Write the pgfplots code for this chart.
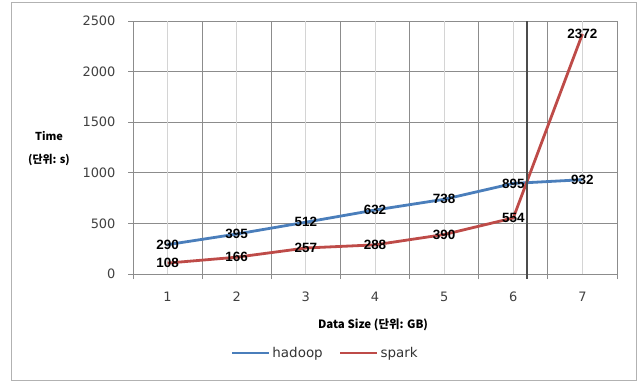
\documentclass[border=0pt]{standalone}
\usepackage{pgfplots}
\pgfplotsset{compat=1.18}
\usepackage{fontspec}
\setmainfont{DejaVu Sans}
\newfontfamily\cjk{Noto Sans CJK KR}
\newfontfamily\lbl{Liberation Sans}
\definecolor{hadoopc}{HTML}{4A7EBB}
\definecolor{sparkc}{HTML}{BE4B48}
\definecolor{gridd}{HTML}{8C8C8C}
\definecolor{gridl}{HTML}{D4D4D4}
\begin{document}
\begin{tikzpicture}[x=1bp,y=1bp]
\useasboundingbox (0,0) rectangle (640,382);
\draw[color=gray!60, line width=1bp] (11,2) rectangle (636,379);
\begin{axis}[
  at={(133bp,108bp)}, anchor=south west,
  scale only axis, width=484bp, height=253bp,
  xmin=0.5, xmax=7.5, ymin=0, ymax=2500,
  clip=false,
  axis line style={draw=gridd, line width=0.8bp},
  xtick={0.5,1.5,...,7.5}, xticklabels={},
  ytick={0,500,...,2500},
  xmajorgrids, ymajorgrids,
  major grid style={draw=gridd, line width=0.8bp},
  tick align=outside, major tick length=5bp,
  tick style={draw=gridd, line width=0.8bp},
  xtick pos=bottom, ytick pos=left,
  extra x ticks={1,2,3,4,5,6,7},
  extra x tick labels={1,2,3,4,5,6,7},
  extra x tick style={major tick length=0pt, grid=major, major grid style={draw=gridl, line width=0.8bp},
    xticklabel style={anchor=center, yshift=-23bp}},
  /pgf/number format/assume math mode=true,
  ticklabel style={font=\fontsize{13}{15}\selectfont, text=black!75},
  yticklabel style={anchor=east, xshift=-9bp},
  scaled y ticks=false,
  yticklabel={\pgfmathprintnumber[fixed,1000 sep={}]{\tick}},
  ylabel={Time\\(단위: s)},
  ylabel style={at={(rel axis cs:-0.1736,0.496)}, rotate=-90, anchor=center, align=center,
    font=\cjk\bfseries\fontsize{11}{23}\selectfont},
  xlabel={Data Size (단위: GB)},
  xlabel style={at={(rel axis cs:0.496,-0.2016)}, anchor=center, font=\cjk\bfseries\fontsize{11.5}{14}\selectfont},
  legend columns=2,
  legend style={draw=none, fill=none, at={(rel axis cs:0.397,-0.312)}, anchor=center,
    font=\fontsize{13.5}{16}\selectfont, text=black!80,
    /tikz/every even column/.append style={column sep=14bp}},
  legend image code/.code={\draw[#1] (0bp,0bp) -- (37bp,0bp);},
  nodes near coords style={anchor=center, font=\lbl\bfseries\fontsize{13.5}{15}\selectfont, text=black},
]
\addplot[color=hadoopc, line width=2.8bp, mark=none, nodes near coords, point meta=explicit symbolic] coordinates {
 (1,290)[290] (2,395)[395] (3,512)[512] (4,632)[632] (5,738)[738] (6,895)[895] (7,932)[932]};
\addlegendentry{hadoop}
\addplot[color=sparkc, line width=2.8bp, mark=none, nodes near coords, point meta=explicit symbolic] coordinates {
 (1,108)[108] (2,166)[166] (3,257)[257] (4,288)[288] (5,390)[390] (6,554)[554] (7,2372)[2372]};
\addlegendentry{spark}
\addplot[color=black!70, line width=1.4bp, mark=none, forget plot] coordinates {(6.2,-45) (6.2,2500)};
\end{axis}
\end{tikzpicture}
\end{document}
